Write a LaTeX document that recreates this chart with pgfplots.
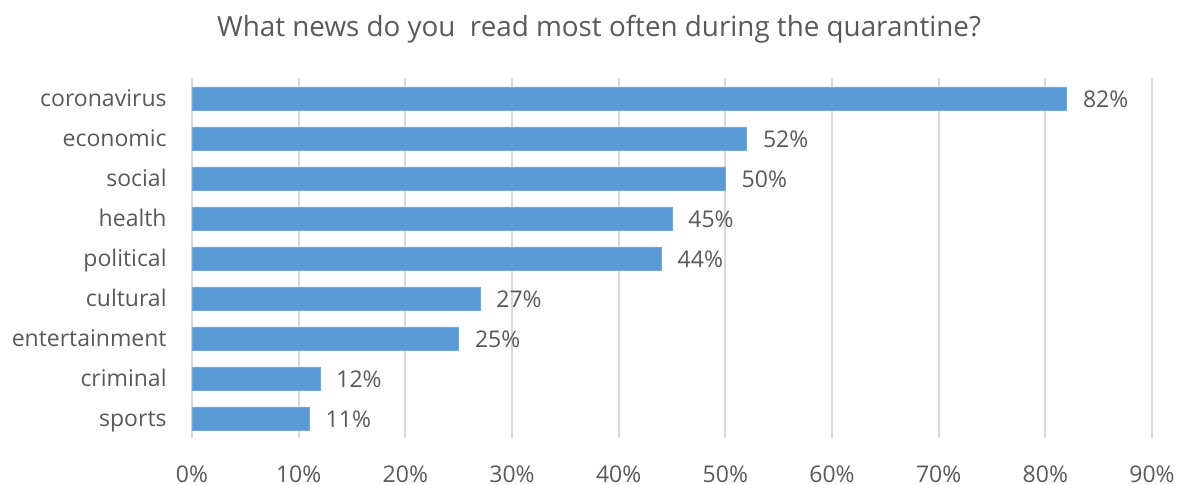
\documentclass[border=0pt]{standalone}
\usepackage{fontspec}
\setmainfont{Open Sans}
\usepackage{pgfplots}
\pgfplotsset{compat=1.18}
\definecolor{barblue}{HTML}{5B9BD5}
\definecolor{txtgray}{HTML}{595959}
\definecolor{gridgray}{HTML}{D9D9D9}
\begin{document}
\begin{tikzpicture}
  \begin{axis}[
    name=ax,
    scale only axis,
    width=480pt,
    height=180pt,
    xbar,
    bar width=11.5pt,
    xmin=0, xmax=90,
    ymin=-0.5, ymax=8.5,
    xtick={0,10,...,90},
    xticklabels={0\%,10\%,20\%,30\%,40\%,50\%,60\%,70\%,80\%,90\%},
    ytick={0,...,8},
    yticklabels={sports,criminal,entertainment,cultural,political,health,social,economic,coronavirus},
    xmajorgrids,
    major grid style={draw=gridgray, line width=1pt},
    axis line style={draw=none},
    major tick length=0pt,
    tick style={draw=none},
    font=\fontsize{11.5}{13}\selectfont,
    xticklabel style={text=txtgray, anchor=base, inner sep=0pt, yshift=-21.75pt},
    yticklabel style={text=txtgray, anchor=base east, inner sep=0pt, xshift=-12.5pt, yshift=-4.1pt},
    nodes near coords={\pgfmathprintnumber[assume math mode=true]{\pgfplotspointmeta}\%},
    nodes near coords style={text=txtgray, anchor=base west, inner sep=0pt, xshift=8pt, yshift=-4.6pt},
    clip=false,
  ]
    \addplot[fill=barblue, draw=barblue!85!white, line width=0.4pt] coordinates {
      (11,0) (12,1) (25,2) (27,3) (44,4) (45,5) (50,6) (52,7) (82,8)
    };
  \end{axis}
  \node[anchor=base, text=txtgray, font=\fontsize{13.9}{16}\selectfont, inner sep=0pt]
    at ([shift={(203.5pt,20.75pt)}]ax.north west) {What news do you\ \ read most often during the quarantine?};
  \path[use as bounding box] ([shift={(-96pt,-23.25pt)}]ax.south west) rectangle ([shift={(13.5pt,39.25pt)}]ax.north east);
\end{tikzpicture}
\end{document}
